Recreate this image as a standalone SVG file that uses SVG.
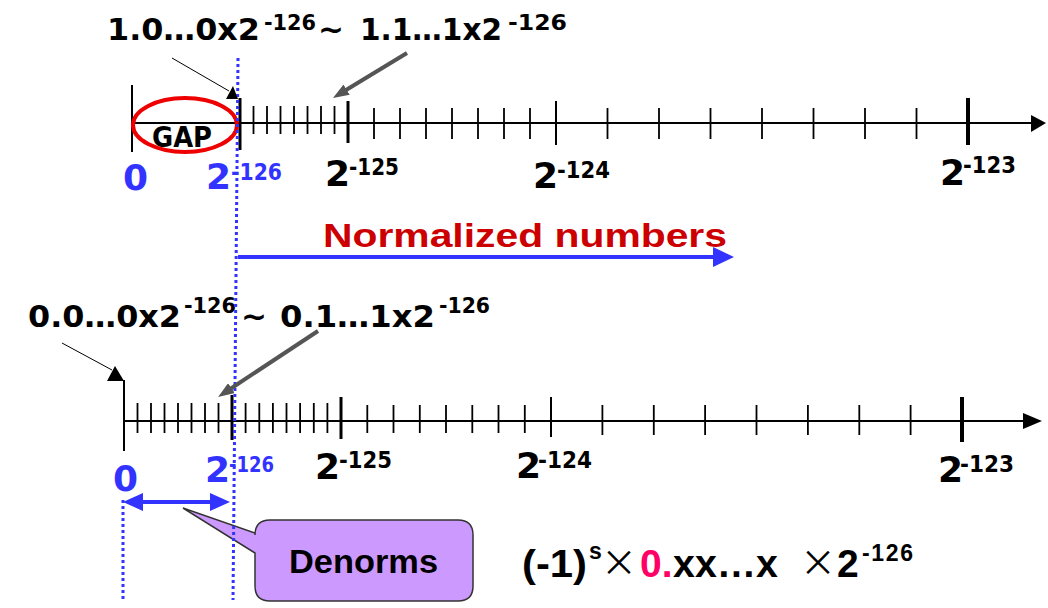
<svg xmlns="http://www.w3.org/2000/svg" width="1048" height="608" viewBox="0 0 1048 608">
<style>
.t{font-family:"DejaVu Sans",Verdana,sans-serif;font-weight:bold;fill:#000}
.a{font-family:"Liberation Sans",Arial,sans-serif;font-weight:bold;fill:#000}
.blue{fill:#3333ff}
.tick{stroke:#000;stroke-width:1.8;fill:none}
.axis{stroke:#000;stroke-width:2;fill:none}
.dot{stroke:#3333ff;stroke-width:3;stroke-dasharray:3 3;fill:none}
.gray{stroke:#555;stroke-width:4;fill:none}
.thin{stroke:#000;stroke-width:1;fill:none}
.x{font-family:"Noto Sans CJK JP","DejaVu Sans",sans-serif;font-weight:normal;fill:#000}
</style>
<defs>
<marker id="gh" markerUnits="userSpaceOnUse" markerWidth="16" markerHeight="12" refX="6" refY="6" orient="auto"><path d="M0,0 L16,6 L0,12 z" fill="#555"/></marker>
</defs>
<rect width="1048" height="608" fill="#fff"/>

<g id="top-title">
<text class="t" x="107" y="40" font-size="31" textLength="153" lengthAdjust="spacingAndGlyphs">1.0…0x2</text>
<text class="t" x="264" y="30" font-size="22" textLength="52" lengthAdjust="spacingAndGlyphs">-126</text>
<text class="t" x="318" y="40" font-size="31" textLength="26" lengthAdjust="spacingAndGlyphs">~</text>
<text class="t" x="360" y="40" font-size="30" textLength="142" lengthAdjust="spacingAndGlyphs">1.1…1x2</text>
<text class="t" x="508" y="30" font-size="22" textLength="59" lengthAdjust="spacingAndGlyphs">-126</text>
</g>

<g id="top-line">
<path class="axis" d="M132,85 V152 M132,123 H1032"/>
<polygon points="1031,115 1046,123 1031,132" fill="#000"/>
<path class="tick" d="M253.5,106V134M267,106V134M280.5,106V134M294,106V134M307.5,106V134M321,106V134M334.5,106V134"/>
<path class="tick" d="M374,108V139M400,108V139M426,108V139M452,108V139M478,108V139M504,108V139M530,108V139"/>
<path class="tick" d="M607.5,108V139M659,108V139M710.5,108V139M762,108V139M813.5,108V139M865,108V139M916.5,108V139"/>
<line x1="240" y1="98" x2="240" y2="150" stroke="#000" stroke-width="3"/>
<line x1="348" y1="101" x2="348" y2="143" stroke="#000" stroke-width="3"/>
<line x1="556" y1="101" x2="556" y2="145" stroke="#000" stroke-width="2"/>
<line x1="968" y1="98" x2="968" y2="145" stroke="#000" stroke-width="4"/>
</g>

<g id="gap">
<ellipse cx="185" cy="125" rx="52" ry="27" fill="none" stroke="#ee0000" stroke-width="4"/>
<text class="t" x="152" y="147" font-size="28" textLength="60" lengthAdjust="spacingAndGlyphs">GAP</text>
</g>

<g id="top-labels">
<text class="t blue" x="123" y="190" font-size="36">0</text>
<text class="t blue" x="206" y="189" font-size="36">2</text>
<text class="t blue" x="231" y="180" font-size="23" textLength="51" lengthAdjust="spacingAndGlyphs">-126</text>
<text class="t" x="325" y="186" font-size="36">2</text>
<text class="t" x="349" y="175" font-size="23" textLength="50" lengthAdjust="spacingAndGlyphs">-125</text>
<text class="t" x="533" y="188" font-size="36">2</text>
<text class="t" x="557" y="178" font-size="23" textLength="53" lengthAdjust="spacingAndGlyphs">-124</text>
<text class="t" x="940" y="185" font-size="36">2</text>
<text class="t" x="963" y="173" font-size="23" textLength="53" lengthAdjust="spacingAndGlyphs">-123</text>
</g>

<g id="normalized">
<text class="a" x="323" y="247" font-size="34" style="fill:#cc0000" textLength="404" lengthAdjust="spacingAndGlyphs">Normalized numbers</text>
</g>

<g id="bottom-title">
<text class="t" x="28" y="327" font-size="31" textLength="153" lengthAdjust="spacingAndGlyphs">0.0…0x2</text>
<text class="t" x="184" y="313" font-size="22" textLength="52" lengthAdjust="spacingAndGlyphs">-126</text>
<text class="t" x="241" y="327" font-size="31" textLength="26" lengthAdjust="spacingAndGlyphs">~</text>
<text class="t" x="280" y="327" font-size="31" textLength="155" lengthAdjust="spacingAndGlyphs">0.1…1x2</text>
<text class="t" x="439" y="313" font-size="22" textLength="51" lengthAdjust="spacingAndGlyphs">-126</text>
</g>

<g id="bottom-line">
<path class="axis" d="M124,380 V451 M124,421 H1025"/>
<polygon points="1023,413 1042,421 1023,429" fill="#000"/>
<path class="tick" d="M137.5,403V433M151,403V433M164.5,403V433M178,403V433M191.5,403V433M205,403V433M218.5,403V433"/>
<path class="tick" d="M245.6,403V433M259.3,403V433M272.9,403V433M286.5,403V433M300.1,403V433M313.8,403V433M327.4,403V433"/>
<path class="tick" d="M367.3,405V433M393.5,405V433M419.8,405V433M446,405V433M472.3,405V433M498.5,405V433M524.8,405V433"/>
<path class="tick" d="M602.4,405V435M653.8,405V435M705.1,405V435M756.5,405V435M807.9,405V435M859.3,405V435M910.6,405V435"/>
<line x1="232" y1="395" x2="232" y2="440" stroke="#000" stroke-width="3"/>
<line x1="341" y1="397" x2="341" y2="439" stroke="#000" stroke-width="3"/>
<line x1="551" y1="397" x2="551" y2="437" stroke="#000" stroke-width="2"/>
<line x1="962" y1="397" x2="962" y2="442" stroke="#000" stroke-width="4"/>
</g>

<g id="bottom-labels">
<text class="t blue" x="113" y="491" font-size="36">0</text>
<text class="t blue" x="205" y="482" font-size="36">2</text>
<text class="t blue" x="229" y="472" font-size="22" textLength="45" lengthAdjust="spacingAndGlyphs">-126</text>
<text class="t" x="315" y="479" font-size="36">2</text>
<text class="t" x="339" y="468" font-size="23" textLength="53" lengthAdjust="spacingAndGlyphs">-125</text>
<text class="t" x="516" y="478" font-size="36">2</text>
<text class="t" x="538" y="468" font-size="23" textLength="54" lengthAdjust="spacingAndGlyphs">-124</text>
<text class="t" x="938" y="482" font-size="36">2</text>
<text class="t" x="960" y="472" font-size="23" textLength="54" lengthAdjust="spacingAndGlyphs">-123</text>
</g>

<g id="denorms">
<path d="M270,520 H458 Q473,520 473,535 V586 Q473,601 458,601 H270 Q255,601 255,586 V553 L183,508 L255,533 V535 Q255,520 270,520 Z" fill="#cc99ff" stroke="#333" stroke-width="1.5"/>
<text class="a" x="289" y="573" font-size="34" textLength="149" lengthAdjust="spacingAndGlyphs">Denorms</text>
</g>

<g id="formula">
<text class="a" x="522" y="577" font-size="39" textLength="65" lengthAdjust="spacingAndGlyphs">(-1)</text>
<text class="a" x="589" y="559" font-size="23">s</text>
<text class="x" x="601" y="576" font-size="36">×</text>
<text class="a" x="640" y="577" font-size="39" style="fill:#ff0066">0.</text>
<text class="a" x="673" y="577" font-size="39" textLength="105" lengthAdjust="spacingAndGlyphs">xx…x</text>
<text class="x" x="800" y="576" font-size="36">×</text>
<text class="a" x="837" y="577" font-size="39">2</text>
<text class="a" x="862" y="561" font-size="23" textLength="51">-126</text>
</g>

<g id="connectors">
<line class="dot" x1="238" y1="58" x2="233" y2="600"/>
<line class="dot" x1="123" y1="500" x2="123" y2="600"/>
<line x1="238" y1="257" x2="715" y2="257" stroke="#3333ff" stroke-width="4"/>
<polygon points="713,247 734,257 713,267" fill="#3333ff"/>
<line x1="140" y1="502" x2="213" y2="502" stroke="#3333ff" stroke-width="4"/>
<polygon points="123,502 143,493 143,511" fill="#3333ff"/>
<polygon points="230,502 210,493 210,511" fill="#3333ff"/>
<line class="gray" x1="407" y1="53" x2="341.5" y2="92.8" marker-end="url(#gh)"/>
<line class="gray" x1="318" y1="331" x2="226.4" y2="391.5" marker-end="url(#gh)"/>
<line class="thin" x1="172" y1="58" x2="229" y2="91"/>
<polygon points="226,99 238,99 233,86" fill="#000"/>
<line class="thin" x1="62" y1="343" x2="112" y2="370"/>
<polygon points="107,381 124,381 115,366" fill="#000"/>
</g>
</svg>
